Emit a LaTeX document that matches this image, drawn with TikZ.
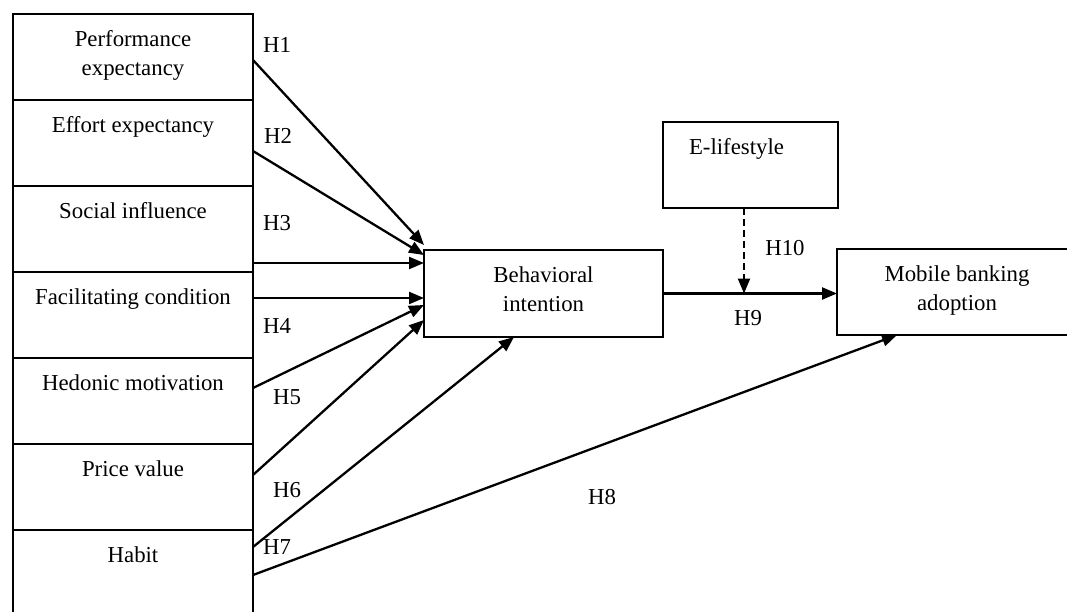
\documentclass[tikz,border=0pt]{standalone}
\usepackage{fontspec}
\setmainfont{Liberation Serif}
\usepackage{tikz}
\usetikzlibrary{positioning,calc,arrows.meta}

\tikzset{
  boxline/.style={draw, line width=2.3pt, inner sep=0pt, outer sep=0pt, minimum height=86pt},
  toplabel/.style={anchor=north, align=center, inner sep=0pt, yshift=-16pt},
  construct/.style={boxline, label={[toplabel]north:#1}},
  link/.style={line width=2.3pt, -{Triangle[length=15pt,width=12pt]}},
  hyp/.style={inner sep=0pt}
}

\begin{document}
\begin{tikzpicture}[x=1pt, y=-1pt, font=\fontsize{22.8}{29}\selectfont]
\useasboundingbox (0,0) rectangle (1067,612);
% left column of constructs
\node [construct={Performance\\expectancy}, minimum width=240pt] (pe) at (133, 57) {};
\node [construct={Effort expectancy}, minimum width=240pt] (ee) at (133, 143) {};
\node [construct={Social influence}, minimum width=240pt] (si) at (133, 229) {};
\node [construct={Facilitating condition}, minimum width=240pt] (fc) at (133, 315) {};
\node [construct={Hedonic motivation}, minimum width=240pt] (hm) at (133, 401) {};
\node [construct={Price value}, minimum width=240pt] (pv) at (133, 487) {};
\node [construct={Habit}, minimum width=240pt] (hb) at (133, 573) {};
% middle and right
\node [construct={Behavioral\\intention}, minimum width=239pt, minimum height=87pt] (bi) at (543.5, 293.5) {};
\node [boxline, minimum width=175pt, label={[toplabel, xshift=-14pt]north:E-lifestyle}] (el) at (750.5, 165) {};
\node [construct={Mobile banking\\adoption}, minimum width=240pt] (mb) at (957, 292) {};
\coordinate (mod) at (744, 293.5);
% paths
\draw [link] ($(pe.north east)+(0,46)$) -- ($(bi.north west)+(0,-5)$);
\draw [link] ($(ee.north east)+(0,51)$) -- ($(bi.north west)+(0,5)$);
\draw [link] ($(si.north east)+(0,77)$) -- ($(bi.north west)+(0,13)$);
\draw [link] ($(fc.north east)+(0,26)$) -- ($(bi.north west)+(0,48)$);
\draw [link] ($(hm.north east)+(0,30)$) -- ($(bi.north west)+(0,55)$);
\draw [link] ($(pv.north east)+(0,31)$) -- ($(bi.north west)+(0,70)$);
\draw [link] ($(hb.north east)+(0,17)$) -- ($(bi.south west)+(90,0)$);
\draw [link] ($(hb.north east)+(0,45)$) -- ($(mb.south west)+(60,0)$);
\draw [link] (bi.east) -- (bi.east -| mb.west);
\draw [link, dash pattern=on 7pt off 4pt] (el.south -| mod) -- (mod);
% hypotheses
\node [hyp] (h1) at (277, 45) {H1};
\node [hyp] (h2) at (278, 136) {H2};
\node [hyp] (h3) at (277, 223) {H3};
\node [hyp] (h4) at (277, 326) {H4};
\node [hyp] (h5) at (287, 397) {H5};
\node [hyp] (h6) at (287, 490) {H6};
\node [hyp] (h7) at (277, 547) {H7};
\node [hyp] (h8) at (602, 497) {H8};
\node [hyp] (h9) at (748, 318) {H9};
\node [hyp] (h10) at (785, 248) {H10};
\end{tikzpicture}
\end{document}
